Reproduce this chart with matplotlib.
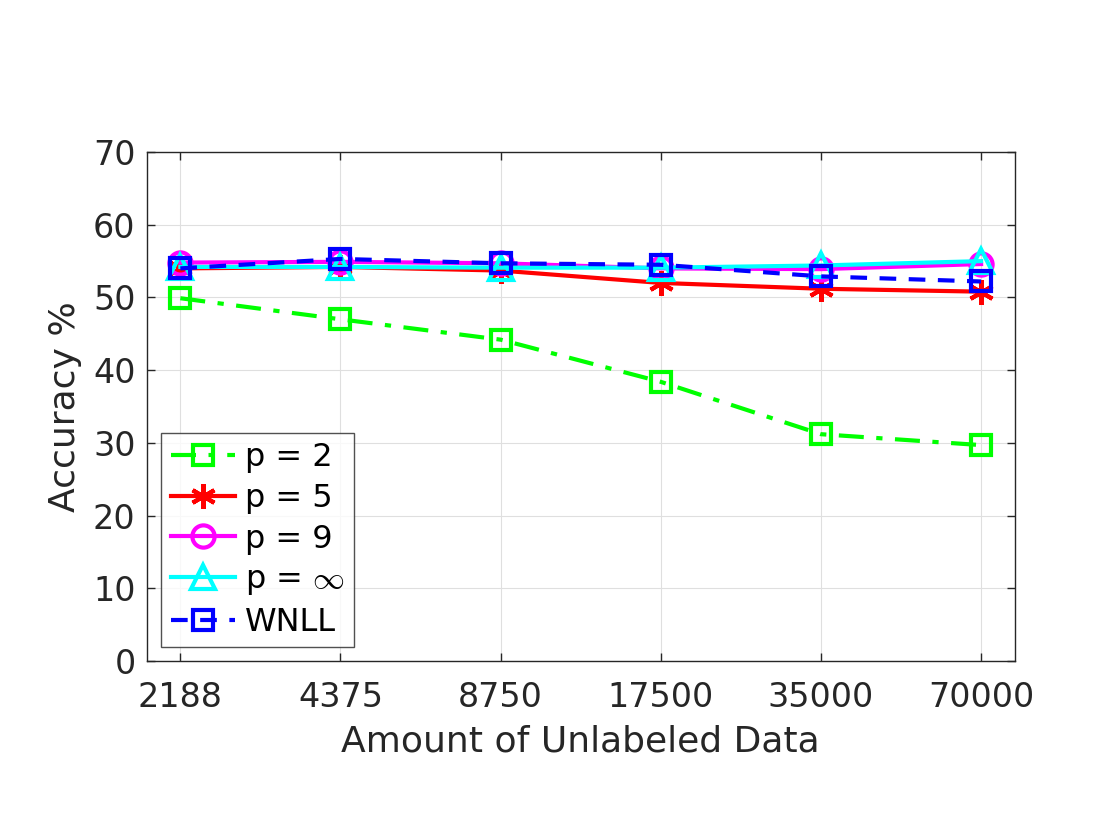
import numpy as np
import matplotlib
matplotlib.use('Agg')
import matplotlib.pyplot as plt

# data
amounts = ['2188', '4375', '8750', '17500', '35000', '70000']
acc_p2 = [49.9, 47.0, 44.2, 38.4, 31.2, 29.7]
acc_p5 = [54.0, 54.2, 53.7, 52.0, 51.2, 50.8]
acc_p9 = [54.8, 54.9, 54.7, 54.0, 53.9, 54.6]
acc_pinf = [54.2, 54.2, 54.1, 54.1, 54.4, 55.0]
acc_wnll = [54.0, 55.3, 54.7, 54.5, 52.9, 52.2]

plt.rcParams['font.family'] = ['DejaVu Sans']
plt.rcParams['mathtext.fontset'] = 'cm'

txt = '#262626'
x = np.arange(1, len(amounts) + 1)

fig = plt.figure(figsize=(11.2, 8.4), dpi=100)
ax = fig.add_axes([0.131, 0.213, 0.775, 0.606])

lw = 3.0
ms = 14
mew = 3.0
ax.plot(x, acc_p2, '-.', color='#00ff00', lw=lw, marker='s', ms=ms, mfc='none', mew=mew,
        dashes=(6, 3, 1.5, 3), label='p = 2')
ax.plot(x, acc_p5, '-', color='#ff0000', lw=lw, marker=(6, 2, 0), ms=ms+4, mfc='none', mew=mew, label='p = 5')
ax.plot(x, acc_p9, '-', color='#ff00ff', lw=lw, marker='o', ms=ms+2, mfc='none', mew=mew, label='p = 9')
ax.plot(x, acc_pinf, '-', color='#00ffff', lw=lw, marker='^', ms=ms+3, mfc='none', mew=mew, label=r'p = $\infty$')
ax.plot(x, acc_wnll, '--', color='#0000ff', lw=lw, marker='s', ms=ms, mfc='none', mew=mew,
        dashes=(4, 3), label='WNLL')

ax.set_xlim(0.79, 6.21)
ax.set_ylim(0, 70)
ax.set_xticks(x)
ax.set_xticklabels(amounts)
ax.set_yticks(np.arange(0, 71, 10))
ax.grid(True, color='#dfdfdf', lw=0.8)
ax.set_axisbelow(True)
ax.tick_params(direction='in', length=6, width=1, top=True, right=True, labelsize=24, colors=txt)
ax.tick_params(axis='x', pad=14)
ax.tick_params(axis='y', pad=8)
for s in ax.spines.values():
    s.set_color(txt)
    s.set_linewidth(1)

ax.set_xlabel('Amount of Unlabeled Data', fontsize=26, color=txt, labelpad=8)
ax.set_ylabel('Accuracy %', fontsize=26, color=txt, labelpad=8)

leg = ax.legend(loc='lower left', fontsize=23, frameon=True, fancybox=False, edgecolor=txt,
                handlelength=2.0, handletextpad=0.3, labelspacing=0.3, borderpad=0.3,
                borderaxespad=0, bbox_to_anchor=(0.017, 0.027))
leg.get_frame().set_linewidth(1)
for t in leg.get_texts():
    t.set_color('black')

fig.savefig('out.png', dpi=100)
